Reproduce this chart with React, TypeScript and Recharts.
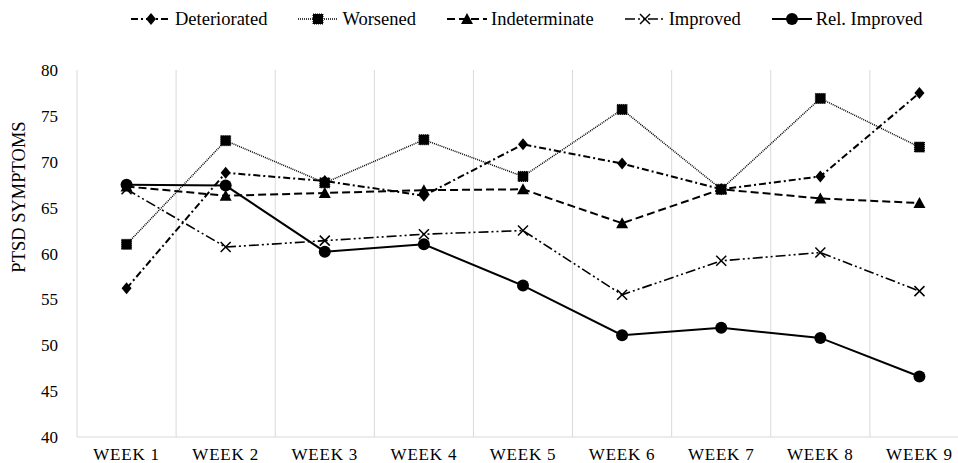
import { LineChart, Line, XAxis, YAxis, CartesianGrid, Legend } from "recharts";

const weeks = ["WEEK 1", "WEEK 2", "WEEK 3", "WEEK 4", "WEEK 5", "WEEK 6", "WEEK 7", "WEEK 8", "WEEK 9"];
const deteriorated = [56.2, 68.8, 67.9, 66.3, 71.9, 69.8, 67.0, 68.4, 77.5];
const worsened = [61.0, 72.3, 67.7, 72.4, 68.4, 75.7, 67.0, 76.9, 71.6];
const indeterminate = [67.3, 66.3, 66.6, 66.9, 67.0, 63.3, 67.0, 66.0, 65.5];
const improved = [67.0, 60.7, 61.4, 62.1, 62.5, 55.5, 59.2, 60.1, 55.9];
const relImproved = [67.5, 67.4, 60.2, 61.0, 56.5, 51.1, 51.9, 50.8, 46.6];
const yTicks = [40, 45, 50, 55, 60, 65, 70, 75, 80];
const gridTicks = [0.5, 1.5, 2.5, 3.5, 4.5, 5.5, 6.5, 7.5, 8.5, 9.5];

const FONT = '"Liberation Serif", "Times New Roman", serif';

type Kind = "diamond" | "square" | "triangle" | "x" | "circle";

const SERIES: { key: string; name: string; kind: Kind; dash?: string; width: number }[] = [
  { key: "deteriorated", name: "Deteriorated", kind: "diamond", dash: "7 3 2 3", width: 2 },
  { key: "worsened", name: "Worsened", kind: "square", dash: "1 1", width: 1.5 },
  { key: "indeterminate", name: "Indeterminate", kind: "triangle", dash: "8 4", width: 2 },
  { key: "improved", name: "Improved", kind: "x", dash: "10 3 2 3 2 3", width: 1.6 },
  { key: "relImproved", name: "Rel. Improved", kind: "circle", width: 2 },
];

const data = weeks.map((w, i) => ({
  week: w,
  n: i + 1,
  deteriorated: deteriorated[i],
  worsened: worsened[i],
  indeterminate: indeterminate[i],
  improved: improved[i],
  relImproved: relImproved[i],
}));

function Marker({ kind, cx, cy }: { kind: Kind; cx: number; cy: number }) {
  if (cx == null || cy == null) return null;
  switch (kind) {
    case "diamond":
      return <polygon points={`${cx},${cy - 6} ${cx + 5},${cy} ${cx},${cy + 6} ${cx - 5},${cy}`} fill="#000" />;
    case "square":
      return <rect x={cx - 5} y={cy - 5} width={10} height={10} fill="#000" stroke="#000" strokeWidth={1} strokeDasharray="1 1" />;
    case "triangle":
      return <polygon points={`${cx},${cy - 6} ${cx + 6},${cy + 5} ${cx - 6},${cy + 5}`} fill="#000" />;
    case "x":
      return (
        <g stroke="#000" strokeWidth={1.5}>
          <line x1={cx - 5} y1={cy - 5} x2={cx + 5} y2={cy + 5} />
          <line x1={cx - 5} y1={cy + 5} x2={cx + 5} y2={cy - 5} />
        </g>
      );
    default:
      return <circle cx={cx} cy={cy} r={6} fill="#000" />;
  }
}

function LegendBox() {
  return (
    <div
      style={{
        height: 70,
        boxSizing: "border-box",
        paddingTop: 8,
        paddingLeft: 130,
        display: "flex",
        alignItems: "flex-start",
        gap: 30,
        fontFamily: FONT,
        fontSize: 18.5,
        color: "#000",
      }}
    >
      {SERIES.map((s) => (
        <span key={s.key} style={{ display: "flex", alignItems: "center", gap: 3, height: 22 }}>
          <svg width={42} height={16}>
            <line x1={1} y1={8} x2={41} y2={8} stroke="#000" strokeWidth={s.width} strokeDasharray={s.dash} />
            <Marker kind={s.kind} cx={21} cy={8} />
          </svg>
          <span>{s.name}</span>
        </span>
      ))}
    </div>
  );
}

function YLabel({ viewBox }: any) {
  const x = viewBox.x + 19;
  const y = 197;
  return (
    <text x={x} y={y} transform={`rotate(-90 ${x} ${y})`} textAnchor="middle" dominantBaseline="central" fontFamily={FONT} fontSize={18.5} fill="#000">
      PTSD SYMPTOMS
    </text>
  );
}

export default function App() {
  return (
    <div style={{ position: "absolute", left: 0, top: 0, width: 958, height: 463, overflow: "hidden", background: "#fff" }}>
      <LineChart width={975} height={463} data={data} margin={{ top: 0, right: 6, bottom: 0, left: 0 }}>
        <Legend verticalAlign="top" content={() => <LegendBox />} wrapperStyle={{ left: 0, top: 0, width: 975 }} />
        <XAxis xAxisId="grid" type="number" dataKey="n" domain={[0.5, 9.5]} ticks={gridTicks} hide allowDataOverflow />
        <CartesianGrid xAxisId="grid" horizontal={false} stroke="#d9d9d9" strokeWidth={1} />
        <XAxis
          dataKey="week"
          scale="band"
          height={26}
          tickLine={false}
          tickSize={0}
          tickMargin={11}
          axisLine={{ stroke: "#d9d9d9" }}
          tick={{ fontSize: 17, fill: "#000", fontFamily: FONT, letterSpacing: 0.8 }}
          interval={0}
        />
        <YAxis
          width={77}
          domain={[40, 80]}
          ticks={yTicks}
          axisLine={false}
          tickLine={false}
          tickSize={0}
          tickMargin={19}
          tick={{ fontSize: 17, fill: "#000", fontFamily: FONT }}
          label={<YLabel />}
        />
        {SERIES.map((s) => (
          <Line
            key={s.key}
            dataKey={s.key}
            name={s.name}
            stroke="#000"
            strokeWidth={s.width}
            strokeDasharray={s.dash}
            isAnimationActive={false}
            dot={(p: any) => <Marker key={`${s.key}-${p.index}`} kind={s.kind} cx={p.cx} cy={p.cy} />}
            activeDot={false}
          />
        ))}
      </LineChart>
    </div>
  );
}
